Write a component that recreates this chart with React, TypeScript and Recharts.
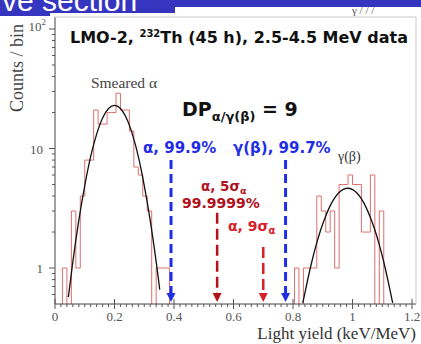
import React from 'react';
import { ComposedChart, Line, XAxis, YAxis, ReferenceLine } from 'recharts';

// ---- data ----
const BIN_WIDTH = 0.015;
const alphaBinStart = 0.025;
const alphaCounts = [1, 0, 3, 1, 4, 8, 8, 21, 16, 16, 20, 20, 29, 21, 21, 14, 7, 6, 4, 3, 0, 1, 1, 1];
const gammaBinStart = 0.805;
const gammaCounts = [1, 0, 1, 1, 1, 4, 3, 2, 3, 1, 5, 5, 6, 5, 5, 2, 2, 6, 0, 3];

const alphaFitX = [0.045, 0.06, 0.08, 0.1, 0.12, 0.14, 0.16, 0.18, 0.2, 0.22, 0.24, 0.26, 0.28, 0.3, 0.32, 0.34, 0.352];
const alphaFitY = [0.57, 1.13, 2.5, 4.9, 8.6, 13.2, 18.0, 21.6, 23, 21.6, 18.0, 13.2, 8.6, 4.9, 2.5, 1.13, 0.66];
const gammaFitX = [0.833, 0.849, 0.864, 0.879, 0.894, 0.909, 0.924, 0.939, 0.954, 0.969, 0.984, 0.999, 1.014, 1.029, 1.044, 1.059, 1.074, 1.089, 1.104, 1.119, 1.135];
const gammaFitY = [0.51, 0.79, 1.15, 1.6, 2.12, 2.69, 3.28, 3.82, 4.26, 4.55, 4.65, 4.55, 4.26, 3.82, 3.28, 2.69, 2.12, 1.6, 1.15, 0.79, 0.51];

const xMajorTicks = [0, 0.2, 0.4, 0.6, 0.8, 1.0, 1.2];
const xTickLabels = ['0', '0.2', '0.4', '0.6', '0.8', '1', '1.2'];
const yMajorTicks = [1, 10, 100];
const yTickLabels = ['1', '10', '10^2'];

const cutAlpha999 = 0.39;
const cutGamma997 = 0.775;
const cutAlpha5s = 0.545;
const cutAlpha9s = 0.7;
const arrowTopBlue = 8;
const arrowTopRed5 = 2.9;
const arrowTopRed9 = 1.5;
const Y_MIN = 0.5;
const Y_MAX = 126;
const X_MAX = 1.2134;

// ---- tables built from the arrays ----
const LOW = 0.2;
function histData(start: number, counts: number[]) {
  const pts: { x: number; y: number }[] = [{ x: start, y: LOW }];
  counts.forEach((c, i) => pts.push({ x: +(start + i * BIN_WIDTH).toFixed(4), y: c > 0 ? c : LOW }));
  pts.push({ x: +(start + counts.length * BIN_WIDTH).toFixed(4), y: LOW });
  return pts;
}
const alphaHist = histData(alphaBinStart, alphaCounts);
const gammaHist = histData(gammaBinStart, gammaCounts);
const alphaFit = alphaFitX.map((x, i) => ({ x, y: alphaFitY[i] }));
const gammaFit = gammaFitX.map((x, i) => ({ x, y: gammaFitY[i] }));

const xTicks: number[] = [];
for (let i = 0; i <= 60; i++) xTicks.push(+(i * 0.02).toFixed(2));
const yTicks: number[] = [0.6, 0.7, 0.8, 0.9];
[1, 10].forEach((d) => {
  for (let k = 1; k <= 9; k++) yTicks.push(+(k * d).toFixed(2));
});
yTicks.push(100);

const SERIF = 'Liberation Serif, Times New Roman, serif';
const SANS = 'DejaVu Sans, Verdana, sans-serif';

const XTick = (props: any) => {
  const { x, y, payload } = props;
  const v = payload.value;
  const idx = xMajorTicks.findIndex((m) => Math.abs(m - v) < 1e-6);
  const major = idx >= 0;
  return (
    <g>
      <line x1={x} x2={x} y1={major ? y - 5 : y} y2={major ? y + 5 : y + 3} stroke="#555" strokeWidth={1} />
      {major && (
        <text x={x} y={y + 17} textAnchor="middle" fontFamily={SERIF} fontSize={13} fill="#555">
          {xTickLabels[idx]}
        </text>
      )}
    </g>
  );
};

const YTick = (props: any) => {
  const { x, y, payload } = props;
  const v = payload.value;
  const idx = yMajorTicks.findIndex((m) => Math.abs(m - v) < 1e-6);
  const major = idx >= 0;
  const label = major ? yTickLabels[idx] : '';
  return (
    <g>
      <line x1={x - (major ? 6 : 3)} x2={x} y1={y} y2={y} stroke="#555" strokeWidth={1} />
      {major && label.indexOf('^') < 0 && (
        <text x={x - 12} y={y + 5} textAnchor="end" fontFamily={SERIF} fontSize={13} fill="#555">
          {label}
        </text>
      )}
      {major && label.indexOf('^') >= 0 && (
        <text x={x - 9} y={y + 2} textAnchor="end" fontFamily={SERIF} fontSize={13} fill="#555">
          {label.split('^')[0]}
          <tspan fontSize={9} dy={-6}>{label.split('^')[1]}</tspan>
        </text>
      )}
    </g>
  );
};

const makeArrow = (color: string, w: number, dash: string) => (p: any) => {
  const { x1, y1, y2 } = p;
  const tip = y2 - 2;
  return (
    <g>
      <line x1={x1} x2={x1} y1={y1} y2={tip - 8} stroke={color} strokeWidth={w} strokeDasharray={dash} />
      <polygon points={`${x1 - 4.5},${tip - 9} ${x1 + 4.5},${tip - 9} ${x1},${tip}`} fill={color} />
    </g>
  );
};

const BLUE = '#1f2ee6';
const DARKRED = '#b0121c';
const RED = '#d8202a';

export default function App() {
  return (
    <div style={{ position: 'fixed', left: 0, top: 0, width: 421, height: 344, background: '#fff', overflow: 'hidden' }}>
      <ComposedChart width={421} height={344} margin={{ top: 17, right: 5, bottom: 0, left: 0 }}>
        <XAxis
          dataKey="x"
          type="number"
          domain={[0, X_MAX]}
          ticks={xTicks}
          interval={0}
          height={40}
          tickSize={0}
          tickMargin={0}
          tick={<XTick />}
          axisLine={{ stroke: '#444' }}
          tickLine={false}
          allowDataOverflow
        />
        <YAxis
          type="number"
          scale="log"
          domain={[Y_MIN, Y_MAX]}
          ticks={yTicks}
          interval={0}
          width={55}
          tickSize={0}
          tickMargin={0}
          tick={<YTick />}
          axisLine={{ stroke: '#444' }}
          tickLine={false}
          allowDataOverflow
        />
        <Line data={alphaHist} dataKey="y" type="stepAfter" stroke="#dc7070" strokeWidth={1} dot={false} isAnimationActive={false} />
        <Line data={gammaHist} dataKey="y" type="stepAfter" stroke="#dc7070" strokeWidth={1} dot={false} isAnimationActive={false} />
        <Line data={alphaFit} dataKey="y" type="natural" stroke="#111" strokeWidth={1.3} dot={false} isAnimationActive={false} />
        <Line data={gammaFit} dataKey="y" type="natural" stroke="#111" strokeWidth={1.3} dot={false} isAnimationActive={false} />
        <ReferenceLine segment={[{ x: cutAlpha999, y: arrowTopBlue }, { x: cutAlpha999, y: Y_MIN }]} shape={makeArrow(BLUE, 3, '9 5')} />
        <ReferenceLine segment={[{ x: cutGamma997, y: arrowTopBlue }, { x: cutGamma997, y: Y_MIN }]} shape={makeArrow(BLUE, 3, '9 5')} />
        <ReferenceLine segment={[{ x: cutAlpha5s, y: arrowTopRed5 }, { x: cutAlpha5s, y: Y_MIN }]} shape={makeArrow(DARKRED, 2.5, '11 5')} />
        <ReferenceLine segment={[{ x: cutAlpha9s, y: arrowTopRed9 }, { x: cutAlpha9s, y: Y_MIN }]} shape={makeArrow(RED, 2.5, '11 5')} />
      </ComposedChart>
      <svg width={421} height={344} style={{ position: 'absolute', left: 0, top: 0, pointerEvents: 'none' }}>
        {/* slide header band */}
        <rect x={0} y={0} width={421} height={7} fill="#3535c0" />
        <rect x={0} y={0} width={175} height={13} fill="#3535c0" />
        <rect x={0} y={0} width={50} height={16} fill="#3535c0" />
        <text x={2} y={11} fontFamily="Liberation Sans, Arial, sans-serif" fontSize={30} fill="#fff">ve section</text>
        <text x={352} y={14} fontFamily={SERIF} fontSize={11} fill="#555">{'\u03b3   / / /'}</text>
        {/* frame */}
        <line x1={55} y1={17} x2={416} y2={17} stroke="#c8c8c8" />
        <line x1={416} y1={17} x2={416} y2={304} stroke="#c8c8c8" />
        {/* title */}
        <text x={70} y={43} fontFamily={SANS} fontWeight="bold" fontSize={16} fill="#111">
          LMO-2, <tspan fontSize={10} dy={-6}>232</tspan><tspan dy={6}>Th (45 h), 2.5-4.5 MeV data</tspan>
        </text>
        <text x={124} y={88} textAnchor="middle" fontFamily={SERIF} fontSize={15.5} fill="#444">Smeared α</text>
        <text x={182} y={116} fontFamily={SANS} fontWeight="bold" fontSize={19} fill="#111">
          DP<tspan fontSize={13} dy={5}>α/γ(β)</tspan><tspan dy={-5}> = 9</tspan>
        </text>
        <text x={143} y={153} fontFamily={SANS} fontWeight="bold" fontSize={15} fill={BLUE}>α, 99.9%</text>
        <text x={233} y={153} fontFamily={SANS} fontWeight="bold" fontSize={15} fill={BLUE}>γ(β), 99.7%</text>
        <text x={338} y={161} fontFamily={SERIF} fontSize={14} fill="#333">γ(β)</text>
        <text x={201} y={191} fontFamily={SANS} fontWeight="bold" fontSize={13.5} fill={DARKRED}>
          α, 5σ<tspan fontSize={9.5} dy={3}>α</tspan>
        </text>
        <text x={182} y={208} fontFamily={SANS} fontWeight="bold" fontSize={14} fill={DARKRED}>99.9999%</text>
        <text x={228} y={231} fontFamily={SANS} fontWeight="bold" fontSize={14} fill={RED}>
          α, 9σ<tspan fontSize={10} dy={3}>α</tspan>
        </text>
        {/* axis titles */}
        <text transform="rotate(-90)" x={-68} y={23} textAnchor="middle" fontFamily={SERIF} fontSize={18} fill="#444">Counts / bin</text>
        <text x={416} y={339} textAnchor="end" fontFamily={SERIF} fontSize={17} fill="#333">Light yield (keV/MeV)</text>
      </svg>
    </div>
  );
}
